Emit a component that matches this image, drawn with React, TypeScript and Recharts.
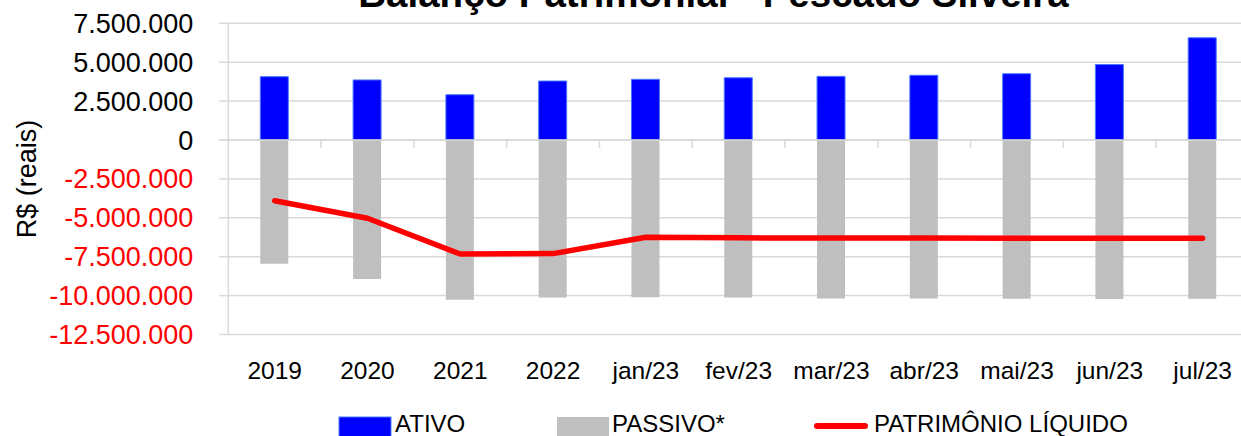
import React from "react";
import {
  ComposedChart,
  Bar,
  Line,
  XAxis,
  YAxis,
  CartesianGrid,
  ReferenceLine,
} from "recharts";

// values (R$)
const categories = ["2019", "2020", "2021", "2022", "jan/23", "fev/23", "mar/23", "abr/23", "mai/23", "jun/23", "jul/23"];
const ativo = [4070000, 3860000, 2910000, 3790000, 3900000, 4000000, 4090000, 4160000, 4260000, 4850000, 6570000];
const passivo = [-7950000, -8930000, -10260000, -10130000, -10110000, -10130000, -10180000, -10180000, -10200000, -10220000, -10200000];
const patrimonio = [-3900000, -5030000, -7330000, -7300000, -6250000, -6290000, -6300000, -6300000, -6310000, -6320000, -6320000];
const yTicks = [-12500000, -10000000, -7500000, -5000000, -2500000, 0, 2500000, 5000000, 7500000];

const chartData = categories.map((name, i) => ({
  name,
  ativo: ativo[i],
  passivo: passivo[i],
  patrimonio: patrimonio[i],
}));

const GRID = "#D9D9D9";

const fmt = (v: number) => {
  const s = Math.abs(v).toString().replace(/\B(?=(\d{3})+(?!\d))/g, ".");
  return v < 0 ? "-" + s : s;
};

const YTick = (props: any) => {
  const { x, y, payload } = props;
  return (
    <text x={x} y={y} dy="0.355em" textAnchor="end" fontSize={27} fill={payload.value < 0 ? "#FF0000" : "#000000"}>
      {fmt(payload.value)}
    </text>
  );
};

// zero line with the small category divider marks underneath
const ZeroLine = (props: any) => {
  const { x1, y1, x2 } = props;
  const n = categories.length;
  const step = (x2 - x1) / n;
  const marks = [];
  for (let i = 1; i < n; i++) {
    const mx = x1 + i * step;
    marks.push(<line key={i} x1={mx} y1={y1} x2={mx} y2={y1 + 8} stroke={GRID} strokeWidth={1.5} />);
  }
  return (
    <g>
      <line x1={x1 - 9} y1={y1} x2={x2} y2={y1} stroke={GRID} strokeWidth={1.5} />
      {marks}
    </g>
  );
};

const App: React.FC = () => {
  return (
    <div
      style={{
        position: "absolute",
        left: 0,
        top: 0,
        width: 1241,
        height: 436,
        overflow: "hidden",
        background: "#fff",
        fontFamily: "'Liberation Sans', Arial, sans-serif",
      }}
    >
      <ComposedChart
        width={1260}
        height={436}
        data={chartData}
        stackOffset="sign"
        margin={{ top: 23.3, right: 11, bottom: 0, left: 0 }}
      >
        <CartesianGrid vertical={false} stroke={GRID} strokeWidth={1.5} />
        <XAxis
          dataKey="name"
          axisLine={false}
          tickLine={false}
          height={101.5}
          tickSize={6}
          tickMargin={21}
          interval={0}
          tick={{ fontSize: 24.5, fill: "#000" }}
        />
        <YAxis
          width={228.3}
          domain={[-12500000, 7500000]}
          ticks={yTicks}
          interval={0}
          allowDataOverflow
          axisLine={{ stroke: GRID, strokeWidth: 1.5 }}
          tickLine={{ stroke: GRID, strokeWidth: 1.5 }}
          tickSize={9}
          tickMargin={26}
          tick={<YTick />}
          label={{
            content: () => (
              <text x={27} y={179} transform="rotate(-90, 27, 179)" textAnchor="middle" dominantBaseline="central" fontSize={27} fill="#000">
                R$ (reais)
              </text>
            ),
          }}
        />
        <Bar dataKey="ativo" stackId="a" barSize={28} fill="#0000FF" stroke="#4A78FF" strokeWidth={1} isAnimationActive={false} />
        <Bar dataKey="passivo" stackId="a" barSize={28} fill="#BFBFBF" isAnimationActive={false} />
        <ReferenceLine y={0} shape={<ZeroLine />} />
        <Line
          type="linear"
          dataKey="patrimonio"
          stroke="#FF0000"
          strokeWidth={5.5}
          strokeLinecap="round"
          strokeLinejoin="round"
          dot={false}
          activeDot={false}
          isAnimationActive={false}
        />
      </ComposedChart>
      <svg width={1241} height={436} style={{ position: "absolute", left: 0, top: 0, pointerEvents: "none" }}>
        <text x={713.5} y={7} textAnchor="middle" fontSize={38.5} fontWeight="bold" fill="#000">
          Balanço Patrimonial - Pescado Silveira
        </text>
        <rect x={339} y={417} width={52} height={20} fill="#0000FF" stroke="#4A78FF" strokeWidth={1} />
        <text x={395} y={432} fontSize={24} fill="#000">ATIVO</text>
        <rect x={557} y={417} width={52} height={20} fill="#BFBFBF" />
        <text x={612} y={432} fontSize={24} fill="#000">PASSIVO*</text>
        <line x1={817} y1={426} x2={865} y2={426} stroke="#FF0000" strokeWidth={6} strokeLinecap="round" />
        <text x={874} y={432} fontSize={24} fill="#000">PATRIMÔNIO LÍQUIDO</text>
      </svg>
    </div>
  );
};

export default App;
